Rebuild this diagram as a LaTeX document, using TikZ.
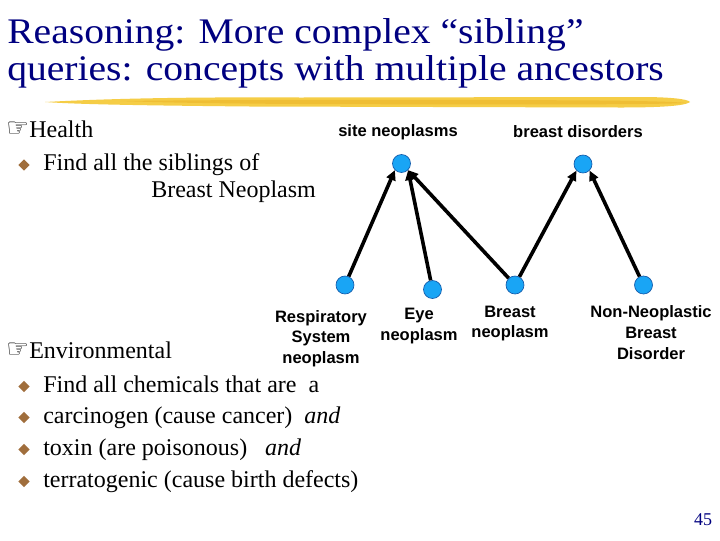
\documentclass[tikz,border=0pt]{standalone}
\usepackage{fontspec}
\setmainfont{Liberation Serif}
\newfontfamily\titlefont[FakeStretch=1.1]{Liberation Serif}
\newfontfamily\arialb[BoldFont={Liberation Sans Bold}]{Liberation Sans}
\newfontfamily\dejavu{DejaVu Sans}
\usetikzlibrary{arrows.meta,shapes.geometric}
\definecolor{navy}{RGB}{0,0,128}
\definecolor{nodeblue}{RGB}{25,165,245}
\definecolor{nodeedge}{RGB}{20,90,170}
\definecolor{bulletbrown}{RGB}{160,110,60}
\definecolor{brushA}{RGB}{245,205,70}
\definecolor{brushB}{RGB}{235,180,40}
\tikzset{
  titletext/.style={anchor=base west,inner sep=0pt,text=navy,font=\titlefont\fontsize{27pt}{32pt}\selectfont},
  bodytext/.style={anchor=base west,inner sep=0pt,font=\fontsize{18pt}{21pt}\selectfont},
  handmark/.style={anchor=base west,inner sep=0pt,font=\dejavu\fontsize{19pt}{22pt}\selectfont},
  bulletmark/.style={diamond,fill=bulletbrown,inner sep=0pt,minimum size=11.5*0.75pt},
  concept/.style={circle,fill=nodeblue,draw=nodeedge,line width=0.5pt,minimum size=18*0.75pt,inner sep=0pt},
  clabel/.style={inner sep=0pt,align=center,font=\arialb\bfseries\fontsize{12.4pt}{15.5pt}\selectfont},
  isa/.style={line width=2.7pt,-{Triangle[length=7.5pt,width=7pt]}},
}
\begin{document}
\begin{tikzpicture}[x=0.75pt,y=-0.75pt]
\useasboundingbox (0,0) rectangle (720,540);
\fill[white] (0,0) rectangle (720,540);
% title
\node[titletext] (t1) at (7,43) {Reasoning: More complex “sibling”};
\node[titletext] (t2) at (7,80) {queries: concepts with multiple ancestors};
% brush stroke
\fill[brushA] (45,102) .. controls (120,98) and (200,97) .. (300,97.5)
  -- (640,97) .. controls (670,97) and (688,99) .. (690,102)
  .. controls (685,106) and (660,107.5) .. (620,107.5)
  -- (250,106.5) .. controls (150,105.5) and (80,104.5) .. (45,102) -- cycle;
\fill[brushB,opacity=0.6] (120,101) .. controls (250,99.5) and (450,99.5) .. (600,100.5)
  .. controls (650,101) and (680,102) .. (686,103)
  .. controls (650,105) and (450,104.5) .. (300,104)
  .. controls (220,103.5) and (160,102.5) .. (120,101) -- cycle;
% Health
\node[handmark] (h1) at (6,136) {☞};
\node[bodytext] (health) at (29,137) {Health};
\node[bulletmark] (b0) at (24,165) {};
\node[bodytext] (q1a) at (43,170) {Find all the siblings of};
\node[bodytext] (q1b) at (151,197) {Breast Neoplasm};
% Environmental
\node[handmark] (h2) at (6,357) {☞};
\node[bodytext] (env) at (29,358) {Environmental};
\node[bulletmark] (b1) at (24,386.5) {};
\node[bodytext] (e1) at (43,392) {Find all chemicals that are\ \ a};
\node[bulletmark] (b2) at (24,417.5) {};
\node[bodytext] (e2) at (43,423) {carcinogen (cause cancer)\ \ \textit{and}};
\node[bulletmark] (b3) at (24,449.5) {};
\node[bodytext] (e3) at (43,455) {toxin (are poisonous)\ \ \ \textit{and}};
\node[bulletmark] (b4) at (24,481.5) {};
\node[bodytext] (e4) at (43,487) {terratogenic (cause birth defects)};
% diagram
\node[clabel] (lsite) at (398,132) {site neoplasms};
\node[clabel] (lbd) at (578,132) {breast disorders};
\node[concept] (site) at (401.5,163.5) {};
\node[concept] (bd) at (583,164) {};
\node[concept] (resp) at (345,285) {};
\node[concept] (eye) at (432.5,289.5) {};
\node[concept] (breast) at (515,285) {};
\node[concept] (nonneo) at (643.5,285) {};
\node[clabel,anchor=north] (lresp) at (321,310) {Respiratory\\System\\neoplasm};
\node[clabel,anchor=north] (leye) at (419,308) {Eye\\neoplasm};
\node[clabel,anchor=north] (lbreast) at (510,305.5) {Breast\\neoplasm};
\node[clabel,anchor=north] (lnonneo) at (651,305.5) {Non-Neoplastic\\Breast\\Disorder};
\draw[isa] (resp) -- (site.south west);
\draw[isa] (eye) -- (site.south east);
\draw[isa] (breast) -- (site.south east);
\draw[isa] (breast) -- (bd.south west);
\draw[isa] (nonneo) -- (bd.south east);
% page number
\node[anchor=base,inner sep=0pt,text=navy,font=\fontsize{13.5pt}{16pt}\selectfont] (pg) at (703,525) {45};
\end{tikzpicture}
\end{document}
